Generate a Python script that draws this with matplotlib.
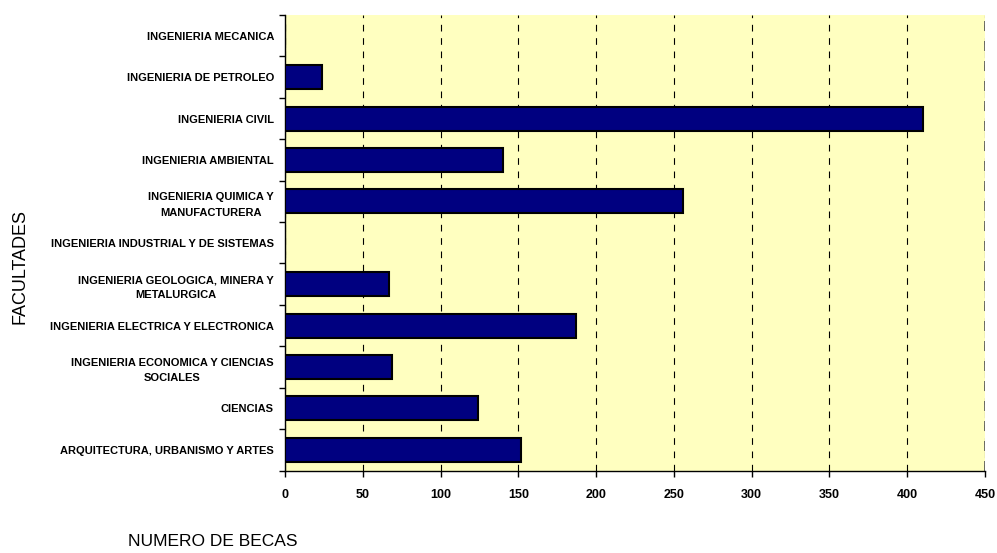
import matplotlib
matplotlib.use("Agg")
import matplotlib.pyplot as plt

categories = [
    "ARQUITECTURA, URBANISMO Y ARTES",
    "CIENCIAS",
    "INGENIERIA ECONOMICA Y CIENCIAS\nSOCIALES",
    "INGENIERIA ELECTRICA Y ELECTRONICA",
    "INGENIERIA GEOLOGICA, MINERA Y\nMETALURGICA",
    "INGENIERIA INDUSTRIAL Y DE SISTEMAS",
    "INGENIERIA QUIMICA Y\nMANUFACTURERA",
    "INGENIERIA AMBIENTAL",
    "INGENIERIA CIVIL",
    "INGENIERIA DE PETROLEO",
    "INGENIERIA MECANICA",
]
becas = [152, 124, 69, 187, 67, 0, 256, 140, 410, 24, 0]
xticks = [0, 50, 100, 150, 200, 250, 300, 350, 400, 450]

plt.rcParams['font.family'] = ['Liberation Sans', 'DejaVu Sans']

fig = plt.figure(figsize=(9.97, 5.53), dpi=100)
ax = fig.add_axes([285/997, 1-470.5/553, 700/997, 455.5/553])
ax.set_facecolor('#FFFFC0')

y = list(range(len(categories)))
ax.barh(y, becas, height=0.58, color='#000080', edgecolor='black', linewidth=1.5, zorder=3)

ax.set_xlim(0, 450)
ax.set_ylim(-0.5, len(categories) - 0.5)
ax.set_xticks(xticks)
ax.set_xticklabels([str(t) for t in xticks], fontsize=9, fontweight='bold')
ax.set_yticks(y)
ax.set_yticklabels(categories, fontsize=8.0, fontweight='bold', multialignment='center',
                   linespacing=1.65)
ax.set_yticks([i - 0.5 for i in range(len(categories) + 1)], minor=True)
ax.tick_params(axis='y', which='major', length=0, pad=8)
ax.tick_params(axis='y', which='minor', length=4, width=1, direction='out')
ax.tick_params(axis='x', length=4, width=1, direction='out', pad=9)

ax.grid(axis='x', color='black', linestyle=(0, (6, 6)), linewidth=0.8, zorder=1)
ax.grid(axis='y', visible=False)
for s in ['top', 'right']:
    ax.spines[s].set_visible(False)
ax.axvline(450, color='#555555', linestyle=(0, (6, 6)), linewidth=1.2, zorder=1)
ax.spines['left'].set_linewidth(1)
ax.spines['bottom'].set_linewidth(1)

fig.text(20/997, 1-267/553, "FACULTADES", rotation=90, fontsize=13, ha='center', va='center')
fig.text(213/997, 1-542/553, "NUMERO DE BECAS", fontsize=12.5, ha='center', va='center')

fig.savefig("out.png", dpi=100)
